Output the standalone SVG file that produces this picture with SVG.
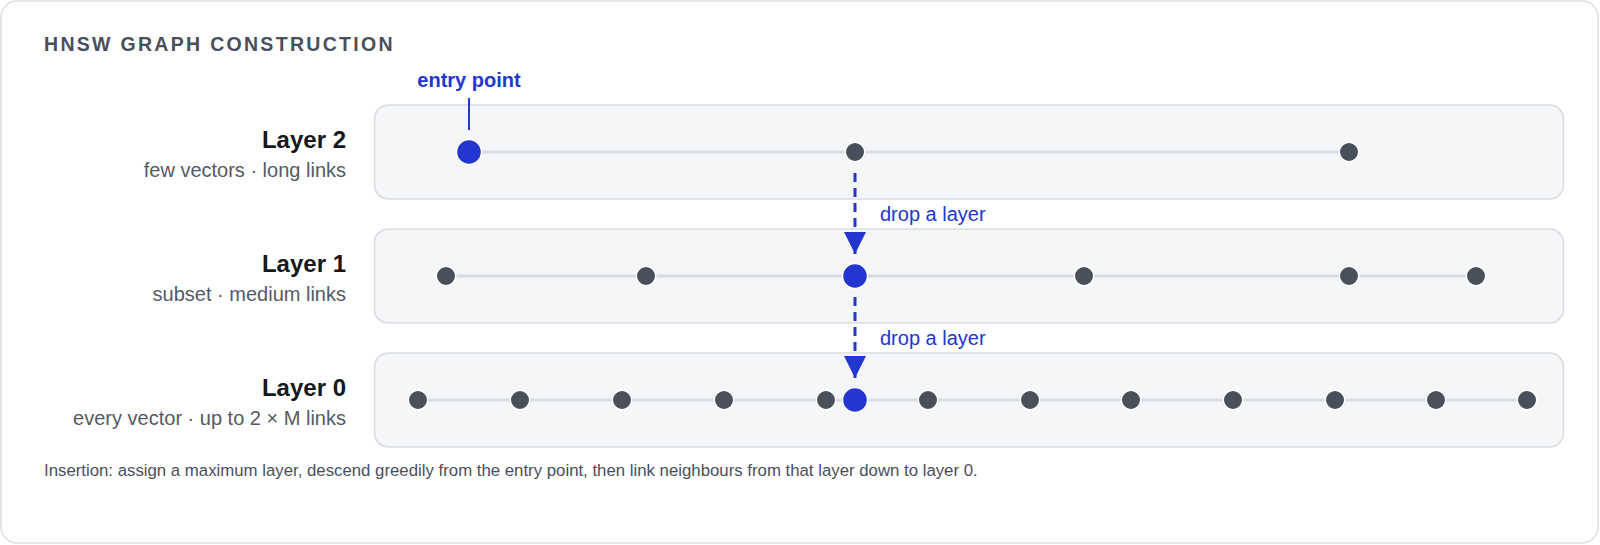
<svg xmlns="http://www.w3.org/2000/svg" width="1600" height="545" viewBox="0 0 1600 545">
  <defs>
    <style>
      text { font-family: "Liberation Sans", Arial, Helvetica, sans-serif; }
      .title { font-size: 19.5px; font-weight: 700; fill: #4a4f5c; letter-spacing: 2.3px; }
      .lname { font-size: 24px; font-weight: 700; fill: #16181d; text-anchor: end; }
      .lsub { font-size: 20px; fill: #555a66; text-anchor: end; }
      .box { fill: #f5f6f8; stroke: #d9dbe3; stroke-width: 1.5; }
      .link { stroke: #d9dbe3; stroke-width: 3; fill: none; }
      .node { fill: #4a4f5c; stroke: #ffffff; stroke-width: 1.5; }
      .hot { fill: #2336cf; stroke: #ffffff; stroke-width: 1.5; }
      .drop { stroke: #2336cf; stroke-width: 3; stroke-dasharray: 9 6; fill: none; }
      .blue { fill: #2336cf; font-size: 20px; }
      .foot { font-size: 16.8px; fill: #4a4f5c; }
    </style>
    <marker id="arrow" viewBox="0 0 22 22" refX="22" refY="11" markerWidth="22" markerHeight="22" markerUnits="userSpaceOnUse" orient="auto">
      <path d="M0,0 L22,11 L0,22 Z" fill="#2336cf"/>
    </marker>
  </defs>

  <rect x="1" y="1" width="1597" height="542" rx="16" fill="#ffffff" stroke="#dcdee4" stroke-width="1.5"/>
  <text class="title" x="44" y="51">HNSW GRAPH CONSTRUCTION</text>

  <g id="layer2">
    <rect class="box" x="374.5" y="105" width="1189" height="94" rx="14"/>
    <text class="lname" x="346" y="148">Layer 2</text>
    <text class="lsub" x="346" y="177">few vectors · long links</text>
    <line class="link" x1="469" y1="152" x2="1349" y2="152"/>
    <circle class="node" cx="855" cy="152" r="9.75"/>
    <circle class="node" cx="1349" cy="152" r="9.75"/>
    <circle class="hot" cx="469" cy="152" r="12.5"/>
  </g>

  <g id="entry-point">
    <text x="469" y="87" text-anchor="middle" style="font-size:20px;font-weight:700;fill:#2336cf">entry point</text>
    <line x1="469" y1="98" x2="469" y2="130" stroke="#2336cf" stroke-width="2"/>
  </g>

  <g id="layer1">
    <rect class="box" x="374.5" y="229" width="1189" height="94" rx="14"/>
    <text class="lname" x="346" y="272">Layer 1</text>
    <text class="lsub" x="346" y="301">subset · medium links</text>
    <line class="link" x1="446" y1="276" x2="1476" y2="276"/>
    <circle class="node" cx="446" cy="276" r="9.75"/>
    <circle class="node" cx="646" cy="276" r="9.75"/>
    <circle class="node" cx="1084" cy="276" r="9.75"/>
    <circle class="node" cx="1349" cy="276" r="9.75"/>
    <circle class="node" cx="1476" cy="276" r="9.75"/>
    <circle class="hot" cx="855" cy="276" r="12.5"/>
  </g>

  <g id="layer0">
    <rect class="box" x="374.5" y="353" width="1189" height="94" rx="14"/>
    <text class="lname" x="346" y="396">Layer 0</text>
    <text class="lsub" x="346" y="425">every vector · up to 2 × M links</text>
    <line class="link" x1="418" y1="400" x2="1527" y2="400"/>
    <circle class="node" cx="418" cy="400" r="9.75"/>
    <circle class="node" cx="520" cy="400" r="9.75"/>
    <circle class="node" cx="622" cy="400" r="9.75"/>
    <circle class="node" cx="724" cy="400" r="9.75"/>
    <circle class="node" cx="826" cy="400" r="9.75"/>
    <circle class="node" cx="928" cy="400" r="9.75"/>
    <circle class="node" cx="1030" cy="400" r="9.75"/>
    <circle class="node" cx="1131" cy="400" r="9.75"/>
    <circle class="node" cx="1233" cy="400" r="9.75"/>
    <circle class="node" cx="1335" cy="400" r="9.75"/>
    <circle class="node" cx="1436" cy="400" r="9.75"/>
    <circle class="node" cx="1527" cy="400" r="9.75"/>
    <circle class="hot" cx="855" cy="400" r="12.5"/>
  </g>

  <g id="connectors">
    <line class="drop" x1="855" y1="173" x2="855" y2="254" marker-end="url(#arrow)"/>
    <text class="blue" x="880" y="221">drop a layer</text>
    <line class="drop" x1="855" y1="297" x2="855" y2="378" marker-end="url(#arrow)"/>
    <text class="blue" x="880" y="345">drop a layer</text>
  </g>

  <text class="foot" x="44" y="476">Insertion: assign a maximum layer, descend greedily from the entry point, then link neighbours from that layer down to layer 0.</text>
</svg>
